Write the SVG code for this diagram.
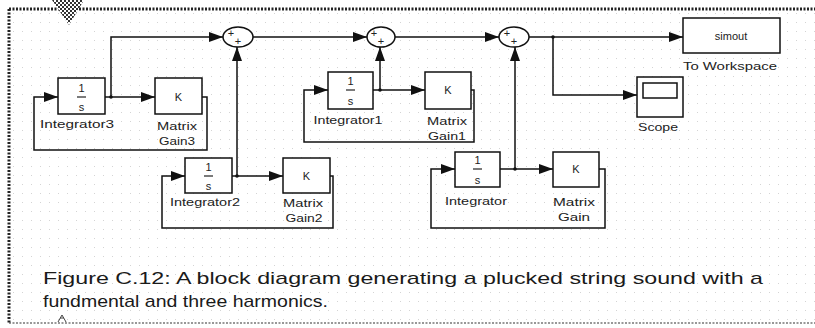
<svg xmlns="http://www.w3.org/2000/svg" width="815" height="328" viewBox="0 0 815 328">
<defs>
<style>
.blk{fill:#fff;stroke:#111;stroke-width:1.5}
.ln{fill:none;stroke:#111;stroke-width:1.5}
.lbl{font-family:"Liberation Sans",Arial,sans-serif;font-size:11px;fill:#222;text-anchor:middle}
.in{font-family:"Liberation Sans",Arial,sans-serif;font-size:11px;fill:#222;text-anchor:middle}
.cap{font-family:"Liberation Sans",Arial,sans-serif;font-size:17px;fill:#1a1a1a}
</style>
<marker id="ar" viewBox="0 0 14 10" refX="14" refY="5" markerWidth="14" markerHeight="10" markerUnits="userSpaceOnUse" orient="auto">
<path d="M0,0 L14,5 L0,10 z" fill="#111"/>
</marker>
<pattern id="dots" width="9" height="9" patternUnits="userSpaceOnUse">
<rect x="4" y="4" width="1" height="1" fill="#d4d4d4"/>
</pattern>
<pattern id="chk" width="4" height="4" patternUnits="userSpaceOnUse">
<rect width="4" height="4" fill="#fff"/>
<rect width="2" height="2" fill="#333"/>
<rect x="2" y="2" width="2" height="2" fill="#333"/>
</pattern>
</defs>
<rect width="815" height="328" fill="#fff"/>
<rect x="10" y="10" width="805" height="313" fill="url(#dots)"/>
<g id="frame">
<line x1="9" y1="9" x2="815" y2="9" stroke="#222" stroke-width="3" stroke-dasharray="2,1.5"/>
<line x1="9" y1="9" x2="9" y2="324" stroke="#222" stroke-width="3" stroke-dasharray="2,1.5"/>
<line x1="9" y1="323" x2="815" y2="323" stroke="#333" stroke-width="1.2" stroke-dasharray="2,1.5"/>
<polygon points="52,0 84,0 69,25" fill="url(#chk)"/>
<path d="M58,322 L62,315 L66,322 M60,318 L64,318" fill="none" stroke="#444" stroke-width="1"/>
</g>
<g id="connectors">
<path class="ln" d="M105,97 H155" marker-end="url(#ar)"/>
<path class="ln" d="M111,97 V37 H223" marker-end="url(#ar)"/>
<path class="ln" d="M202,97 H207 V150 H34 V97 H58" marker-end="url(#ar)"/>
<path class="ln" d="M232,176 H283" marker-end="url(#ar)"/>
<path class="ln" d="M237,176 V47" marker-end="url(#ar)"/>
<path class="ln" d="M330,176 H333 V228 H162 V176 H185" marker-end="url(#ar)"/>
<path class="ln" d="M253,37 H367" marker-end="url(#ar)"/>
<path class="ln" d="M373,90 H425" marker-end="url(#ar)"/>
<path class="ln" d="M380,90 V47" marker-end="url(#ar)"/>
<path class="ln" d="M471,90 H474 V142 H304 V90 H328" marker-end="url(#ar)"/>
<path class="ln" d="M395,37 H499" marker-end="url(#ar)"/>
<path class="ln" d="M500,169 H553" marker-end="url(#ar)"/>
<path class="ln" d="M515,169 V47" marker-end="url(#ar)"/>
<path class="ln" d="M599,169 H605 V228 H431 V169 H455" marker-end="url(#ar)"/>
<path class="ln" d="M529,37 H683" marker-end="url(#ar)"/>
<path class="ln" d="M553,37 V95 H637" marker-end="url(#ar)"/>
<circle cx="111" cy="97" r="1.8" fill="#111"/>
<circle cx="237" cy="176" r="1.8" fill="#111"/>
<circle cx="380" cy="90" r="1.8" fill="#111"/>
<circle cx="515" cy="169" r="1.8" fill="#111"/>
<circle cx="553" cy="37" r="1.8" fill="#111"/>
</g>
<g id="integrator3">
<rect class="blk" x="58" y="78" width="47" height="36"/>
<text class="in" x="81.5" y="92">1</text>
<line x1="77" y1="97" x2="86" y2="97" stroke="#222" stroke-width="1.2"/>
<text class="in" x="81.5" y="111">s</text>
<text class="lbl" x="77" y="128" textLength="74" lengthAdjust="spacingAndGlyphs">Integrator3</text>
</g>
<g id="gain3">
<rect class="blk" x="155" y="78" width="47" height="36"/>
<text class="in" x="178.5" y="101">K</text>
<text class="lbl" x="177" y="130" textLength="40" lengthAdjust="spacingAndGlyphs">Matrix</text>
<text class="lbl" x="177" y="145" textLength="36" lengthAdjust="spacingAndGlyphs">Gain3</text>
</g>
<g id="integrator2">
<rect class="blk" x="185" y="158" width="47" height="35"/>
<text class="in" x="208.5" y="171">1</text>
<line x1="204" y1="176" x2="213" y2="176" stroke="#222" stroke-width="1.2"/>
<text class="in" x="208.5" y="190">s</text>
<text class="lbl" x="205" y="206" textLength="70" lengthAdjust="spacingAndGlyphs">Integrator2</text>
</g>
<g id="gain2">
<rect class="blk" x="283" y="158" width="47" height="35"/>
<text class="in" x="306.5" y="180">K</text>
<text class="lbl" x="303" y="207" textLength="40" lengthAdjust="spacingAndGlyphs">Matrix</text>
<text class="lbl" x="304" y="222" textLength="37" lengthAdjust="spacingAndGlyphs">Gain2</text>
</g>
<g id="integrator1">
<rect class="blk" x="328" y="72" width="45" height="37"/>
<text class="in" x="350.5" y="85">1</text>
<line x1="346" y1="90" x2="355" y2="90" stroke="#222" stroke-width="1.2"/>
<text class="in" x="350.5" y="105">s</text>
<text class="lbl" x="348" y="124" textLength="69" lengthAdjust="spacingAndGlyphs">Integrator1</text>
</g>
<g id="gain1">
<rect class="blk" x="425" y="72" width="46" height="37"/>
<text class="in" x="448" y="94">K</text>
<text class="lbl" x="447" y="125" textLength="40" lengthAdjust="spacingAndGlyphs">Matrix</text>
<text class="lbl" x="447" y="140" textLength="38" lengthAdjust="spacingAndGlyphs">Gain1</text>
</g>
<g id="integrator">
<rect class="blk" x="455" y="152" width="45" height="35"/>
<text class="in" x="477.5" y="164">1</text>
<line x1="473" y1="169" x2="482" y2="169" stroke="#222" stroke-width="1.2"/>
<text class="in" x="477.5" y="184">s</text>
<text class="lbl" x="476" y="205" textLength="62" lengthAdjust="spacingAndGlyphs">Integrator</text>
</g>
<g id="gain">
<rect class="blk" x="553" y="152" width="46" height="35"/>
<text class="in" x="576" y="173">K</text>
<text class="lbl" x="574" y="206" textLength="42" lengthAdjust="spacingAndGlyphs">Matrix</text>
<text class="lbl" x="574" y="221" textLength="32" lengthAdjust="spacingAndGlyphs">Gain</text>
</g>
<g id="sum1">
<ellipse class="blk" cx="238" cy="37" rx="15" ry="10"/>
<text class="in" x="231" y="37" font-size="9">+</text>
<text class="in" x="238" y="45" font-size="9">+</text>
</g>
<g id="sum2">
<ellipse class="blk" cx="381" cy="37" rx="14" ry="10"/>
<text class="in" x="374" y="37" font-size="9">+</text>
<text class="in" x="381" y="45" font-size="9">+</text>
</g>
<g id="sum3">
<ellipse class="blk" cx="514" cy="37" rx="15" ry="10"/>
<text class="in" x="507" y="37" font-size="9">+</text>
<text class="in" x="514" y="45" font-size="9">+</text>
</g>
<g id="toworkspace">
<rect class="blk" x="683" y="18" width="97" height="35"/>
<text class="in" x="731" y="40">simout</text>
<text class="lbl" x="730" y="70" textLength="94" lengthAdjust="spacingAndGlyphs">To Workspace</text>
</g>
<g id="scope">
<rect class="blk" x="637" y="77" width="46" height="40"/>
<rect x="643" y="83" width="34" height="15" fill="#fff" stroke="#111" stroke-width="1.5"/>
<text class="lbl" x="658" y="131" textLength="40" lengthAdjust="spacingAndGlyphs">Scope</text>
</g>
<g id="caption">
<text class="cap" x="43" y="284" textLength="720" lengthAdjust="spacingAndGlyphs">Figure C.12:  A block diagram generating a plucked string sound with a</text>
<text class="cap" x="43" y="307" textLength="285" lengthAdjust="spacingAndGlyphs">fundmental and three harmonics.</text>
</g>
</svg>
